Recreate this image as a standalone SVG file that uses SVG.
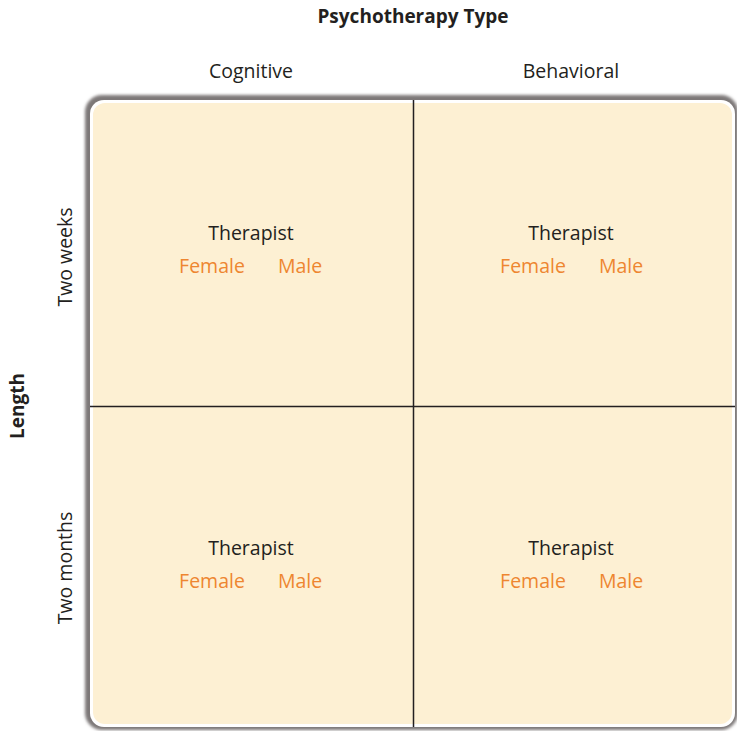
<svg xmlns="http://www.w3.org/2000/svg" width="737" height="731" viewBox="0 0 737 731">
<defs>
<filter id="blur" x="-5%" y="-5%" width="110%" height="110%"><feGaussianBlur stdDeviation="1.6"/></filter>
<style>
.t{font-family:"Open Sans","Liberation Sans",sans-serif;fill:#231f20;text-anchor:middle}
.lab{font-size:19.5px}
.b{font-weight:bold;font-size:19px}
.th{font-size:19.5px}
.o{font-family:"Open Sans","Liberation Sans",sans-serif;fill:#ee8630;font-size:19.5px;text-anchor:middle}
.ln{stroke:#231f20;stroke-width:1.5;fill:none}
</style>
</defs>
<rect width="737" height="731" fill="#ffffff"/>
<g id="panel">
<rect x="85" y="95" width="653" height="635" rx="17" fill="#7d7878" filter="url(#blur)"/>
<rect x="90" y="100" width="645" height="627" rx="14" fill="#ffffff"/>
<rect x="93" y="103" width="639" height="621" rx="12" fill="#fdf0d3"/>
</g>
<g id="connectors">
<line class="ln" x1="413.5" y1="100" x2="413.5" y2="727"/>
<line class="ln" x1="90" y1="406.5" x2="735" y2="406.5"/>
</g>
<g id="title"><text class="t b" x="413" y="23">Psychotherapy Type</text></g>
<g id="col-cognitive"><text class="t lab" x="251" y="78">Cognitive</text></g>
<g id="col-behavioral"><text class="t lab" x="571" y="78">Behavioral</text></g>
<g id="row-length"><text class="t b" transform="translate(24,406) rotate(-90)">Length</text></g>
<g id="row-two-weeks"><text class="t lab" transform="translate(72,257) rotate(-90)">Two weeks</text></g>
<g id="row-two-months"><text class="t lab" transform="translate(72,568) rotate(-90)">Two months</text></g>
<g id="cell-1">
<text class="t th" x="251" y="240">Therapist</text>
<text class="o" x="212" y="273">Female</text>
<text class="o" x="300" y="273">Male</text>
</g>
<g id="cell-2">
<text class="t th" x="571" y="240">Therapist</text>
<text class="o" x="533" y="273">Female</text>
<text class="o" x="621" y="273">Male</text>
</g>
<g id="cell-3">
<text class="t th" x="251" y="555">Therapist</text>
<text class="o" x="212" y="588">Female</text>
<text class="o" x="300" y="588">Male</text>
</g>
<g id="cell-4">
<text class="t th" x="571" y="555">Therapist</text>
<text class="o" x="533" y="588">Female</text>
<text class="o" x="621" y="588">Male</text>
</g>
</svg>
